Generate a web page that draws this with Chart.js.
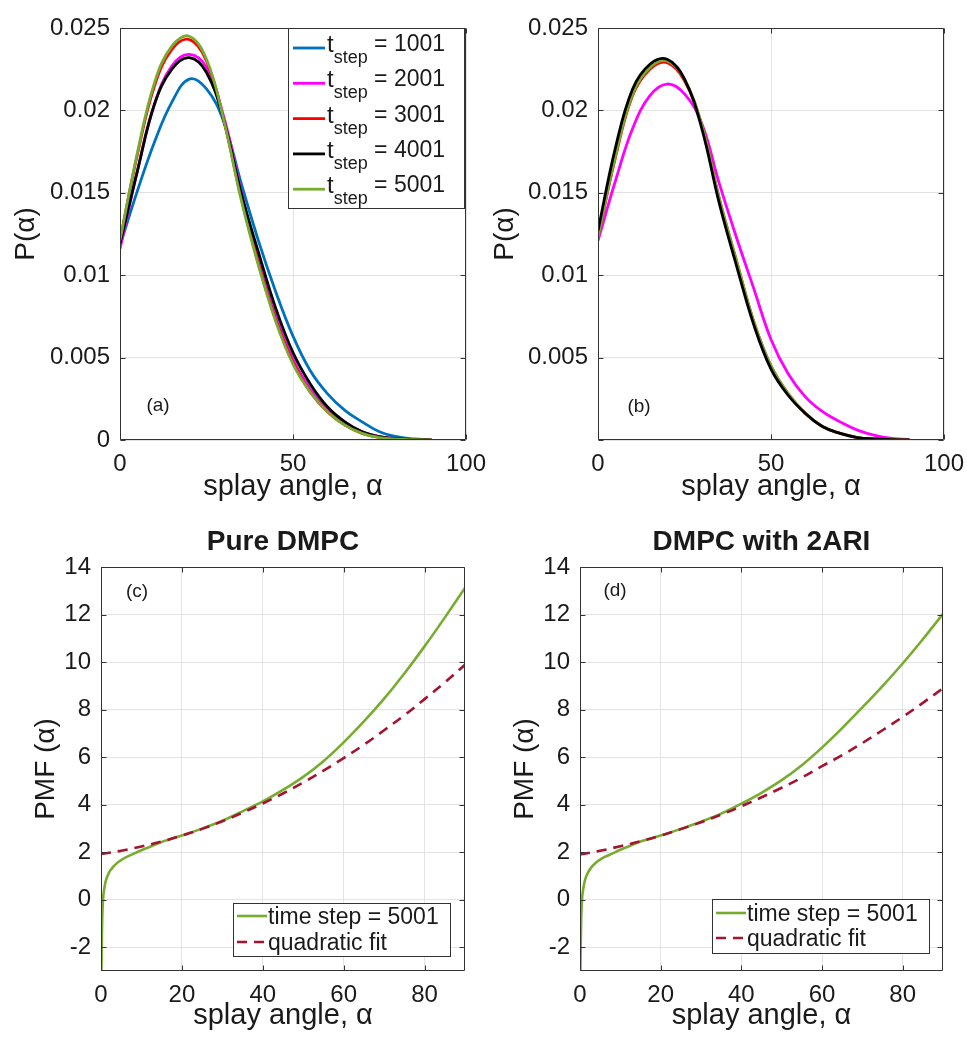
<!DOCTYPE html>
<html>
<head>
<meta charset="utf-8">
<script src="https://cdn.jsdelivr.net/npm/chart.js@4.4.1/dist/chart.umd.min.js"></script>
<style>
html,body{margin:0;padding:0;background:#fff;}
#wrap{position:relative;width:967px;height:1042px;overflow:hidden;background:#fff;}
canvas{position:absolute;}
</style>
</head>
<body>
<div id="wrap">
<canvas id="ca" width="490" height="510" style="left:0px;top:0px"></canvas>
<canvas id="cb" width="487" height="510" style="left:480px;top:0px"></canvas>
<canvas id="cc" width="490" height="542" style="left:0px;top:500px"></canvas>
<canvas id="cd" width="487" height="542" style="left:480px;top:500px"></canvas>
</div>
<script>
// ---------------- DATA ----------------
const angleGrid = [0,5,10,15,20,25,30,35,40,45,50,55,60,65,70,75,80,85,90];
const stepLabels = ['1001','2001','3001','4001','5001'];

// panel (a)
const pA1001 = [0.0118,0.0151,0.0181,0.0205,0.0219,0.0213,0.0193,0.0156,0.0121,0.0090,0.0063,0.0042,0.0028,0.0018,0.0011,0.0005,0.0002,0.00006,0.00001];
const pA2001 = [0.0116,0.0163,0.0204,0.0227,0.0234,0.0226,0.0196,0.0151,0.0110,0.0076,0.0049,0.0031,0.0018,0.0010,0.0005,0.0002,0.00008,0.00003,0.00001];
const pA3001 = [0.0121,0.0173,0.0215,0.0237,0.0243,0.0230,0.0194,0.0147,0.0107,0.0073,0.0047,0.0029,0.0017,0.0009,0.0004,0.00016,0.00006,0.00002,0.00001];
const pA4001 = [0.0119,0.0163,0.0204,0.0225,0.0232,0.0223,0.0194,0.0150,0.0114,0.0080,0.0053,0.0034,0.0020,0.0011,0.0005,0.0002,0.00008,0.00003,0.00001];
const pA5001 = [0.0121,0.0174,0.0217,0.0239,0.0245,0.0231,0.0194,0.0146,0.0106,0.0072,0.0046,0.0029,0.0017,0.0009,0.0004,0.00015,0.00005,0.00002,0.00001];

// panel (b)
const pB2001 = [0.0121,0.0157,0.0189,0.0209,0.0216,0.0210,0.0192,0.0156,0.0123,0.0092,0.0061,0.0040,0.0026,0.0017,0.0011,0.0006,0.00028,0.0001,0.00003];
const pB3001 = [0.0123,0.0171,0.0209,0.0225,0.0229,0.0218,0.0191,0.0147,0.0109,0.0072,0.0045,0.0028,0.0016,0.0008,0.0004,0.00015,0.00006,0.00002,0.00001];
const pB4001 = [0.0127,0.0177,0.0213,0.0228,0.0231,0.0219,0.0189,0.0144,0.0106,0.0070,0.0043,0.0027,0.0016,0.0008,0.0004,0.00015,0.00006,0.00002,0.00001];
const pB5001 = [0.0123,0.0172,0.0210,0.0226,0.0230,0.0219,0.0191,0.0147,0.0109,0.0072,0.0045,0.0028,0.0016,0.0008,0.0004,0.00015,0.00006,0.00002,0.00001];

// panels (c) and (d): PMF
const pmfAngles = [0.1,0.2,0.3,0.5,0.8,1.2,2,3,4,5,6,8,10,12,15,20,25,30,35,40,45,50,55,60,65,70,75,80,85,90];
const pmfPure = [-3.0,-1.7,-0.8,0,0.45,0.8,1.15,1.38,1.55,1.67,1.77,1.93,2.08,2.22,2.43,2.70,2.99,3.32,3.72,4.14,4.62,5.17,5.83,6.62,7.50,8.46,9.52,10.66,11.87,13.12];
const fitPure = [1.92,2.06,2.24,2.45,2.70,2.98,3.30,3.66,4.05,4.47,4.93,5.43,5.96,6.52,7.13,7.76,8.44,9.14,9.89];
const pmf2ARI = [-3.0,-1.7,-0.8,0,0.45,0.8,1.15,1.40,1.57,1.69,1.79,1.94,2.10,2.24,2.45,2.70,2.98,3.28,3.62,4.04,4.50,5.03,5.66,6.40,7.22,8.09,8.99,9.94,10.96,12.03];
const fit2ARI = [1.90,2.06,2.25,2.46,2.70,2.97,3.26,3.58,3.93,4.31,4.71,5.14,5.62,6.08,6.59,7.13,7.69,8.28,8.90];

// ticks
const xTicksTop = [0,50,100];
const yTicksTop = [0,0.005,0.01,0.015,0.02,0.025];
const yLabelsA = ['0','0.005','0.01','0.015','0.02','0.025'];
const yLabelsB = ['','0.005','0.01','0.015','0.02','0.025'];
const xTicksBot = [0,20,40,60,80];
const yTicksBot = [-2,0,2,4,6,8,10,12,14];

// ---------------- STYLE ----------------
const FONT = "'Liberation Sans', Arial, Helvetica, sans-serif";
Chart.defaults.font.family = FONT;
const TXT = '#1a1a1a', AXIS = '#333333', GRID = '#e3e3e3';
const C = {c1001:'#0072BD', c2001:'#FF00FF', c3001:'#FF0000', c4001:'#000000', c5001:'#77AC30', fit:'#A2142F'};

function pts(xs, ys){ return xs.map((x,i)=>({x:x, y:ys[i]})); }

function ds(xs, ys, color, width, order, mode, dash){
  const d = {data: pts(xs, ys), borderColor: color, borderWidth: width, borderDash: dash || [],
          pointRadius: 0, fill: false, order: order};
  if (mode === 'mono') { d.cubicInterpolationMode = 'monotone'; }
  else { d.cubicInterpolationMode = 'default'; d.tension = 0.4; }
  return d;
}

function deco(extra){
  return {
    id: 'deco',
    afterDatasetsDraw(chart){
      const {ctx, chartArea: a, scales: {x, y}} = chart;
      ctx.save();
      ctx.setLineDash([]);
      ctx.strokeStyle = AXIS; ctx.lineWidth = 1;
      const L = Math.round(a.left)+0.5, R = Math.round(a.right)-0.5, T = Math.round(a.top)+0.5, B = Math.round(a.bottom)-0.5;
      ctx.beginPath();
      ctx.rect(L, T, R-L, B-T);
      x.ticks.forEach(t => { const p = Math.round(x.getPixelForValue(t.value))+0.5; ctx.moveTo(p,B); ctx.lineTo(p,B-5); ctx.moveTo(p,T); ctx.lineTo(p,T+5); });
      y.ticks.forEach(t => { const p = Math.round(y.getPixelForValue(t.value))+0.5; ctx.moveTo(L,p); ctx.lineTo(L+5,p); ctx.moveTo(R,p); ctx.lineTo(R-5,p); });
      ctx.stroke();

      ctx.fillStyle = TXT;
      if (extra.tag){
        ctx.font = '19px ' + FONT; ctx.textAlign = 'center'; ctx.textBaseline = 'middle';
        ctx.fillText(extra.tag.text, extra.tag.x, extra.tag.y);
      }
      if (extra.title){
        ctx.font = 'bold 28px ' + FONT; ctx.textAlign = 'center'; ctx.textBaseline = 'middle';
        ctx.fillText(extra.title.text, (a.left + a.right)/2, extra.title.y);
      }
      const lg = extra.legend;
      if (lg){
        ctx.fillStyle = '#ffffff';
        ctx.fillRect(lg.x, lg.y, lg.w, lg.h);
        ctx.strokeStyle = AXIS; ctx.lineWidth = 1;
        ctx.strokeRect(lg.x+0.5, lg.y+0.5, lg.w, lg.h);
        lg.items.forEach(it => {
          ctx.strokeStyle = it.color; ctx.lineWidth = it.width; ctx.setLineDash(it.dash || []);
          ctx.beginPath(); ctx.moveTo(lg.lx0, it.y); ctx.lineTo(lg.lx1, it.y); ctx.stroke();
          ctx.setLineDash([]);
          ctx.fillStyle = TXT; ctx.textAlign = 'left'; ctx.textBaseline = 'alphabetic';
          let cx = lg.tx;
          it.parts.forEach(p => {
            ctx.font = p.size + 'px ' + FONT;
            ctx.fillText(p.text, cx, it.y + p.dy);
            cx += ctx.measureText(p.text).width;
          });
        });
      }
      ctx.restore();
    }
  };
}

function makeChart(id, o){
  return new Chart(document.getElementById(id), {
    type: 'line',
    data: {datasets: o.datasets},
    options: {
      responsive: false, animation: false, devicePixelRatio: 1,
      layout: {padding: o.padding},
      plugins: {legend: {display: false}, tooltip: {enabled: false}, title: {display: false}},
      scales: {
        x: {
          type: 'linear', min: o.xmin, max: o.xmax,
          afterBuildTicks: s => { s.ticks = o.xTicks.map(v => ({value: v})); },
          afterFit: s => { s.height = o.xH; s.paddingLeft = 0; s.paddingRight = 0; },
          grid: {color: GRID, lineWidth: 1, drawTicks: false},
          border: {display: false},
          ticks: {padding: 10, color: TXT, font: {size: 24}, maxRotation: 0, autoSkip: false,
                  callback: (v) => String(v)},
          title: {display: true, text: 'splay angle, α', color: TXT, font: {size: 29}, padding: 0}
        },
        y: {
          type: 'linear', min: o.ymin, max: o.ymax,
          afterBuildTicks: s => { s.ticks = o.yTicks.map(v => ({value: v})); },
          afterFit: s => { s.width = o.yW; s.paddingTop = 0; s.paddingBottom = 0; },
          grid: {color: GRID, lineWidth: 1, drawTicks: false},
          border: {display: false},
          ticks: {padding: 10, color: TXT, font: {size: 24}, autoSkip: false,
                  callback: (v, i) => o.yLabels[i]},
          title: {display: true, text: o.yTitle, color: TXT, font: {size: 28}, padding: 0}
        }
      }
    },
    plugins: [deco(o.extra)]
  });
}

function stepLegendItems(firstY, gap, colors){
  return colors.map((c, i) => ({
    color: c, width: 2.8, y: firstY + i*gap,
    parts: [{text: 't', size: 24, dy: 4}, {text: 'step', size: 18, dy: 15}, {text: ' = ' + stepLabels[i], size: 23, dy: 3}]
  }));
}

// (a)
makeChart('ca', {
  datasets: [
    ds(angleGrid, pA1001, C.c1001, 2.8, 5),
    ds(angleGrid, pA2001, C.c2001, 2.8, 4),
    ds(angleGrid, pA3001, C.c3001, 2.8, 3),
    ds(angleGrid, pA4001, C.c4001, 2.8, 2),
    ds(angleGrid, pA5001, C.c5001, 2.8, 1)
  ],
  padding: {left: 9, top: 28, right: 24, bottom: 6}, xH: 64, yW: 111,
  xmin: 0, xmax: 100, ymin: 0, ymax: 0.025,
  xTicks: xTicksTop, yTicks: yTicksTop, yLabels: yLabelsA, yTitle: 'P(α)',
  extra: {
    tag: {text: '(a)', x: 158, y: 406},
    legend: {x: 288, y: 28, w: 176, h: 180, lx0: 293, lx1: 325, tx: 327,
             items: stepLegendItems(48, 35.3, [C.c1001, C.c2001, C.c3001, C.c4001, C.c5001])}
  }
});

// (b)
makeChart('cb', {
  datasets: [
    ds(angleGrid, pB2001, C.c2001, 2.8, 4),
    ds(angleGrid, pB3001, C.c3001, 2.8, 3),
    ds(angleGrid, pB5001, C.c5001, 2.8, 2),
    ds(angleGrid, pB4001, C.c4001, 2.8, 1)
  ],
  padding: {left: 8, top: 28, right: 23, bottom: 6}, xH: 64, yW: 110,
  xmin: 0, xmax: 100, ymin: 0, ymax: 0.025,
  xTicks: xTicksTop, yTicks: yTicksTop, yLabels: yLabelsB, yTitle: 'P(α)',
  extra: {tag: {text: '(b)', x: 159, y: 407}}
});

const botLabels = yTicksBot.map(v => String(v));

// (c)
makeChart('cc', {
  datasets: [
    ds(pmfAngles, pmfPure, C.c5001, 2.6, 2, 'mono'),
    ds(angleGrid, fitPure, C.fit, 2.6, 1, 'smooth', [10, 7])
  ],
  padding: {left: 29, top: 67, right: 25, bottom: 9}, xH: 62, yW: 72,
  xmin: 0, xmax: 90, ymin: -3, ymax: 14,
  xTicks: xTicksBot, yTicks: yTicksBot, yLabels: botLabels, yTitle: 'PMF (α)',
  extra: {
    tag: {text: '(c)', x: 137, y: 92},
    title: {text: 'Pure DMPC', y: 42},
    legend: {x: 233, y: 403, w: 217, h: 53, lx0: 237, lx1: 267, tx: 268,
             items: [
               {color: C.c5001, width: 2.6, y: 416, parts: [{text: 'time step = 5001', size: 23, dy: 8}]},
               {color: C.fit, width: 2.6, y: 442, dash: [10, 7], parts: [{text: 'quadratic fit', size: 23, dy: 8}]}
             ]}
  }
});

// (d)
makeChart('cd', {
  datasets: [
    ds(pmfAngles, pmf2ARI, C.c5001, 2.6, 2, 'mono'),
    ds(angleGrid, fit2ARI, C.fit, 2.6, 1, 'smooth', [10, 7])
  ],
  padding: {left: 28, top: 67, right: 24, bottom: 9}, xH: 62, yW: 72,
  xmin: 0, xmax: 90, ymin: -3, ymax: 14,
  xTicks: xTicksBot, yTicks: yTicksBot, yLabels: botLabels, yTitle: 'PMF (α)',
  extra: {
    tag: {text: '(d)', x: 135, y: 91},
    title: {text: 'DMPC with 2ARI', y: 42},
    legend: {x: 232, y: 399, w: 217, h: 54, lx0: 236, lx1: 266, tx: 267,
             items: [
               {color: C.c5001, width: 2.6, y: 413, parts: [{text: 'time step = 5001', size: 23, dy: 8}]},
               {color: C.fit, width: 2.6, y: 438, dash: [10, 7], parts: [{text: 'quadratic fit', size: 23, dy: 8}]}
             ]}
  }
});
</script>
</body>
</html>
